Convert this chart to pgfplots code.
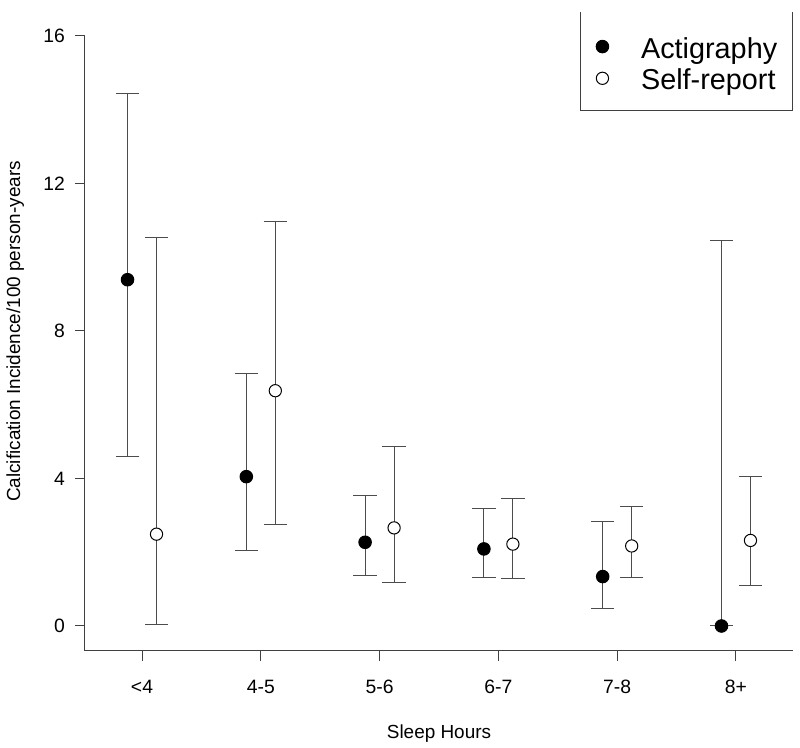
\documentclass[border=0pt]{standalone}
\usepackage{fontspec}
\setmainfont{Liberation Sans}
\usepackage{pgfplots}
\pgfplotsset{compat=1.18}
\usepackage{pgfplotstable}

\pgfplotstableread{
x      y     lo    hi
0.878  9.39  4.59  14.43
1.878  4.05  2.05  6.84
2.878  2.27  1.36  3.53
3.878  2.09  1.31  3.18
4.878  1.34  0.48  2.83
5.878  0.00  0.00  10.45
}\act

\pgfplotstableread{
x      y     lo    hi
1.122  2.49  0.05  10.53
2.122  6.38  2.74  10.96
3.122  2.66  1.19  4.88
4.122  2.22  1.28  3.46
5.122  2.17  1.31  3.25
6.122  2.32  1.11  4.05
}\self

\begin{document}
\begin{tikzpicture}
\useasboundingbox (-63.75pt,-72.75pt) rectangle (536.25pt,488.25pt);
\begin{axis}[
  at={(0pt,0pt)}, anchor=south west,
  scale only axis, width=531pt, height=479.25pt,
  xmin=0.52, xmax=6.48, ymin=-0.678, ymax=16.65,
  clip=false,
  axis lines*=left,
  axis line style={draw=none},
  tick align=outside,
  major tick length=7.5pt,
  tick style={black!75, line width=0.75pt},
  xtick={1,2,3,4,5,6},
  xticklabels={<4,4-5,5-6,6-7,7-8,8+},
  ytick={0,4,8,12,16},
  /pgf/number format/assume math mode=true,
  tick label style={font=\fontsize{14.5pt}{17pt}\selectfont},
  yticklabel style={anchor=east, inner sep=0pt, xshift=-7.3pt},
  xticklabel style={anchor=north, inner sep=0pt, yshift=-13.9pt},
  label style={font=\fontsize{14.2pt}{17pt}\selectfont, inner sep=0pt},
  xlabel={Sleep Hours},
  ylabel={Calcification Incidence/100 person-years},
  xlabel style={at={(axis description cs:0.5,-0.1158)}, anchor=north},
  ylabel style={at={(axis description cs:-0.0857,0.5)}, anchor=south},
  legend style={at={(0.7220,0.9606)}, anchor=north west, draw=none, fill=none,
    inner sep=0pt, outer sep=0pt, row sep=3.5pt, column sep=0pt,
    font=\fontsize{21.6pt}{24pt}\selectfont,
    nodes={inner sep=0pt, text height=15.8pt, text depth=4.5pt}},
  legend cell align=left,
  legend image code/.code={\path[#1, draw=none] plot coordinates {(0pt,3.1pt)}; \path[draw=none] (0pt,0pt) -- (29pt,0pt);},
]
\addplot[only marks, mark=*, mark size=4.7pt, mark options={fill=black, draw=black, line width=0.75pt},
  error bars/.cd, y dir=both, y explicit,
  error bar style={black!70, line width=0.75pt},
  error mark options={rotate=90, mark size=8.8pt, black!70, line width=0.75pt}]
  table[x=x, y=y, y error plus expr=\thisrow{hi}-\thisrow{y}, y error minus expr=\thisrow{y}-\thisrow{lo}] {\act};
\addlegendentry{Actigraphy}
\addplot[only marks, mark=*, mark size=4.6pt, mark options={fill=white, draw=black, line width=0.75pt},
  error bars/.cd, y dir=both, y explicit,
  error bar style={black!70, line width=0.75pt},
  error mark options={rotate=90, mark size=8.8pt, black!70, line width=0.75pt}]
  table[x=x, y=y, y error plus expr=\thisrow{hi}-\thisrow{y}, y error minus expr=\thisrow{y}-\thisrow{lo}] {\self};
\addlegendentry{Self-report}
\draw[black!75, line width=0.75pt] (axis cs:0.52,16) -- (axis cs:0.52,-0.678) -- (axis cs:6.48,-0.678);
\draw[black!75, line width=0.75pt] (rel axis cs:0.6992,1) -- (rel axis cs:0.6992,0.8466) -- (rel axis cs:0.9986,0.8466) -- (rel axis cs:0.9986,1);
\end{axis}
\end{tikzpicture}
\end{document}
